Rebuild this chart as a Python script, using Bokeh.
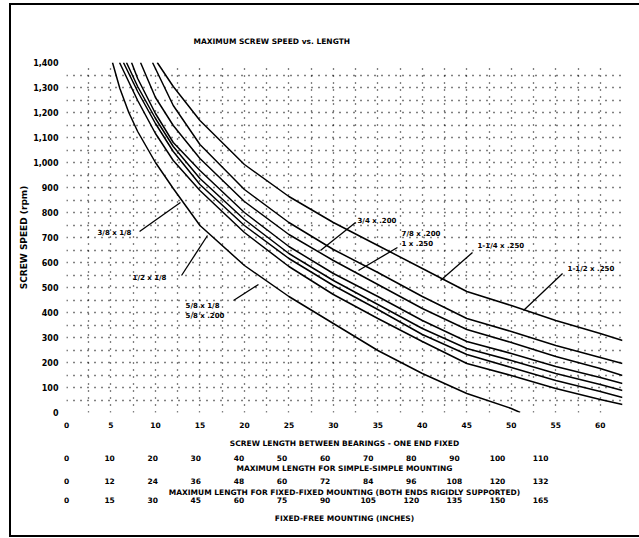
from bokeh.plotting import figure
from bokeh.models import (Range1d, LinearAxis, FixedTicker, SingleIntervalTicker,
                          NumeralTickFormatter, Title)
from bokeh.core.properties import value
from bokeh.embed import file_html
from bokeh.resources import INLINE

# ---------------- data ----------------
title_text = "MAXIMUM SCREW SPEED vs. LENGTH"
y_title = "SCREW SPEED (rpm)"

length_ticks = [0, 5, 10, 15, 20, 25, 30, 35, 40, 45, 50, 55, 60]
rpm_ticks = [0, 100, 200, 300, 400, 500, 600, 700, 800, 900, 1000, 1100, 1200, 1300, 1400]
row2_ticks = [0, 10, 20, 30, 40, 50, 60, 70, 80, 90, 100, 110]
row3_ticks = [0, 12, 24, 36, 48, 60, 72, 84, 96, 108, 120, 132]
row4_ticks = [0, 15, 30, 45, 60, 75, 90, 105, 120, 135, 150, 165]

row1_caption = "SCREW LENGTH BETWEEN BEARINGS - ONE END FIXED"
row2_caption = "MAXIMUM LENGTH FOR SIMPLE-SIMPLE MOUNTING"
row3_caption = "MAXIMUM LENGTH FOR FIXED-FIXED MOUNTING (BOTH ENDS RIGIDLY SUPPORTED)"
row4_caption = "FIXED-FREE MOUNTING (INCHES)"

a_len = [5.17, 6, 7, 8, 10, 12, 15, 20, 25, 30, 35, 40, 45, 50, 51]
a_rpm = [1400, 1296, 1200, 1124, 1000, 896, 748, 588, 464, 356, 248, 156, 76, 16, 0]
b_len = [5.96, 8, 10, 12, 15, 20, 25, 30, 35, 40, 45, 50, 55, 60, 62.5]
b_rpm = [1400, 1248, 1116, 1008, 888, 720, 584, 472, 376, 284, 196, 148, 96, 52, 32]
c_len = [6.4, 8, 10, 12, 15, 20, 25, 30, 35, 40, 45, 50, 55, 60, 62.5]
c_rpm = [1400, 1284, 1156, 1044, 912, 748, 616, 508, 412, 312, 232, 180, 128, 84, 60]
d_len = [6.74, 8, 10, 12, 15, 20, 25, 30, 35, 40, 45, 50, 55, 60, 62.5]
d_rpm = [1400, 1304, 1176, 1064, 936, 772, 636, 528, 432, 336, 256, 208, 156, 112, 88]
e_len = [7.31, 8, 10, 12, 15, 20, 25, 30, 35, 40, 45, 50, 55, 60, 62.5]
e_rpm = [1400, 1336, 1196, 1080, 968, 800, 664, 556, 464, 368, 284, 236, 184, 140, 116]
f_len = [8.32, 10, 12, 15, 20, 25, 30, 35, 40, 45, 50, 55, 60, 62.5]
f_rpm = [1400, 1260, 1148, 1016, 844, 712, 608, 512, 416, 332, 280, 224, 176, 148]
g_len = [9.67, 12, 15, 20, 25, 30, 35, 40, 45, 50, 55, 60, 62.5]
g_rpm = [1400, 1228, 1072, 892, 760, 652, 560, 464, 376, 324, 268, 220, 196]
h_len = [10.2, 12, 15, 20, 25, 30, 35, 40, 45, 50, 55, 60, 62.5]
h_rpm = [1400, 1304, 1168, 992, 864, 760, 668, 576, 484, 428, 368, 316, 288]

curves = [(a_len, a_rpm), (b_len, b_rpm), (c_len, c_rpm), (d_len, d_rpm),
          (e_len, e_rpm), (f_len, f_rpm), (g_len, g_rpm), (h_len, h_rpm)]

label_text = ["3/8 x 1/8", "1/2 x 1/8", "5/8 x 1/8", "5/8 x .200", "3/4 x .200",
              "7/8 x .200", "1 x .250", "1-1/4 x .250", "1-1/2 x .250"]
label_len = [3.48, 7.42, 13.38, 13.38, 32.71, 37.66, 37.66, 46.2, 56.32]
label_rpm = [720, 540, 428, 388, 768, 716, 676, 668, 576]

leader_len0 = [8.21, 12.93, 18.77, 32.49, 37.2, 45.64, 55.76]
leader_rpm0 = [724, 548, 448, 760, 660, 640, 556]
leader_len1 = [12.81, 15.85, 21.58, 28.55, 32.82, 42.04, 51.37]
leader_rpm1 = [840, 708, 512, 648, 568, 528, 408]

# ---------------- figure ----------------
FONT = "DejaVu Sans"

p = figure(width=628, height=530, output_backend="svg", toolbar_location=None,
           x_range=Range1d(0, 62.5), y_range=Range1d(0, 1400),
           min_border_left=55, min_border_right=17, min_border_top=57,
           min_border_bottom=123, margin=(5, 0, 0, 11))
p.outline_line_color = None
p.background_fill_color = "white"
p.border_fill_color = "white"
p.styles = {"outline": "2px solid black"}

p.add_layout(Title(text=title_text, align="left", offset=127, text_font=FONT,
                   text_font_style="bold", text_font_size="7.5px", standoff=33,
                   text_color="black"), "above")

# grid
p.xgrid.ticker = SingleIntervalTicker(interval=2.5)
p.ygrid.ticker = SingleIntervalTicker(interval=50)
for g in (p.xgrid, p.ygrid):
    g.grid_line_color = "black"
    g.grid_line_dash = "1 6"
    g.grid_line_width = 1.3
    g.grid_line_alpha = 1.0


def style_axis(ax, std, lab_std, lab_size="7.5px"):
    ax.axis_line_color = None
    ax.major_tick_line_color = None
    ax.minor_tick_line_color = None
    ax.major_tick_out = 0
    ax.major_tick_in = 0
    ax.major_label_standoff = std
    ax.axis_label_standoff = lab_std
    ax.major_label_text_font = FONT
    ax.major_label_text_font_style = "bold"
    ax.major_label_text_font_size = lab_size
    ax.major_label_text_color = "black"
    ax.axis_label_text_font = FONT
    ax.axis_label_text_font_style = "bold"
    ax.axis_label_text_font_size = "7.5px"
    ax.axis_label_text_color = "black"


# y axis
yax = p.yaxis[0]
yax.ticker = FixedTicker(ticks=rpm_ticks)
yax.formatter = NumeralTickFormatter(format="0,0")
yax.axis_label = y_title
style_axis(yax, 8, 1, "8px")
yax.axis_label_text_font_size = "9px"

# x axis rows
xax = p.xaxis[0]
xax.ticker = FixedTicker(ticks=length_ticks)
xax.axis_label = row1_caption
style_axis(xax, 9, 8)

p.extra_x_ranges = {
    "r2": Range1d(0, 129.0),
    "r3": Range1d(0, 154.8),
    "r4": Range1d(0, 193.5),
}
for name, ticks, cap, std, lstd in [("r2", row2_ticks, row2_caption, 4, 0),
                                     ("r3", row3_ticks, row3_caption, 2, 1),
                                     ("r4", row4_ticks, row4_caption, -3, 8)]:
    ax = LinearAxis(x_range_name=name, ticker=FixedTicker(ticks=ticks), axis_label=cap)
    style_axis(ax, std, lstd)
    p.add_layout(ax, "below")

# curves
for xs, ys in curves:
    p.line(xs, ys, line_color="black", line_width=1.5)

# leaders and labels
p.segment(x0=leader_len0, y0=leader_rpm0, x1=leader_len1, y1=leader_rpm1,
          line_color="black", line_width=1.3)
p.text(x=label_len, y=label_rpm, text=label_text, text_font=value(FONT),
       text_font_style="bold", text_font_size="7px", text_baseline="middle",
       text_align="left", text_color="black")

open("out.html", "w").write(file_html(p, INLINE))
